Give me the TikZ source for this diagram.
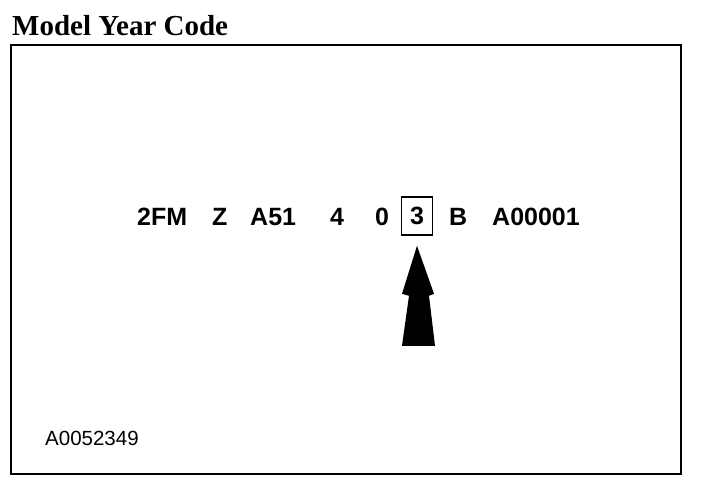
\documentclass[tikz,border=0pt]{standalone}
\usepackage{fontspec}
\setmainfont{Liberation Serif}
\setsansfont{Liberation Sans}
\usepackage{tikz}
\usetikzlibrary{positioning}

\begin{document}
\begin{tikzpicture}[x=1pt,y=-1pt,
  code/.style={anchor=base west,inner sep=0pt,font=\sffamily\bfseries\fontsize{25}{30}\selectfont},
  hilite/.style={draw,line width=1.6pt,minimum width=31pt,minimum height=38pt,inner sep=0pt,font=\sffamily\bfseries\fontsize{25}{30}\selectfont}]
\useasboundingbox (0,0) rectangle (704,490);
\node[anchor=base west,inner sep=0pt,font=\bfseries\fontsize{29}{34}\selectfont] (title) at (12,35) {Model Year Code};
\draw[line width=2pt] (11,45) rectangle (681,474);

\node[code] (wmi) at (137,225) {2FM};
\node[code] (z) at (212,225) {Z};
\node[code] (a51) at (250,225) {A51};
\node[code] (four) at (330,225) {4};
\node[code] (zero) at (375,225) {0};
\node[hilite] (year) at (417,216) {3};
\node[code] (b) at (449,225) {B};
\node[code] (serial) at (492,225) {A00001};

% arrow up to the year digit
\fill ([yshift=-10pt]year.south) -- ++(17,48) -- ++(-5,2) -- ++(6,50) -- ++(-33,0)
  -- ++(7,-50) -- ++(-7,-2) -- cycle;

\node[anchor=base west,inner sep=0pt,font=\sffamily\fontsize{20.5}{24}\selectfont] (ref) at (45,445) {A0052349};
\end{tikzpicture}
\end{document}
